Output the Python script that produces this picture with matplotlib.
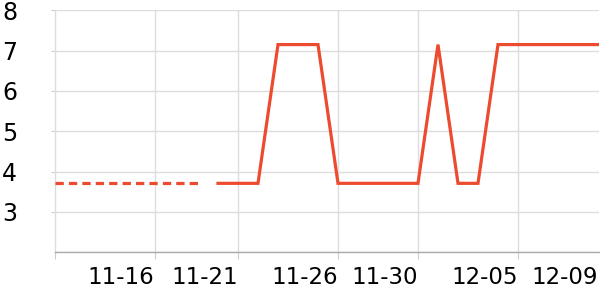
import matplotlib
matplotlib.use("Agg")
import matplotlib.pyplot as plt

# Data
solid_dates = ['11-20', '11-21', '11-22', '11-23', '11-24', '11-25', '11-26',
               '11-27', '11-28', '11-29', '11-30', '12-01', '12-02', '12-03',
               '12-04', '12-05', '12-06', '12-07', '12-08', '12-09']
solid_values = [3.71, 3.71, 3.71, 7.15, 7.15, 7.15, 3.71,
                3.71, 3.71, 3.71, 3.71, 7.15, 3.71, 3.71,
                7.15, 7.15, 7.15, 7.15, 7.15, 7.15]
dashed_x = [-8.15, -0.9]
dashed_values = [3.71, 3.71]
tick_labels = ['11-16', '11-21', '11-26', '11-30', '12-05', '12-09']
tick_pos = [-3.175, 1.0, 6.0, 10.0, 15.0, 19.0]
y_ticks = [3, 4, 5, 6, 7, 8]

color = '#ec4b30'

fig = plt.figure(figsize=(6, 3), dpi=100)
ax = fig.add_axes([55/600, (300-252.3)/300, (599-55)/600, (252.3-10.3)/300])

xs = list(range(len(solid_dates)))
ax.plot(xs, solid_values, color=color, lw=2.3, solid_joinstyle='miter', zorder=3)
ax.plot(dashed_x, dashed_values, color=color, lw=2.3, dashes=(2.6, 1.6), zorder=3)

ax.set_xlim(-8.15, 19.05)
ax.set_ylim(2, 8)

# grid
for y in [2] + y_ticks:
    ax.axhline(y, color='#dddddd', lw=1, zorder=1)
for x in tick_pos[:-1]:
    ax.axvline(x, color='#dddddd', lw=1, zorder=1)

for s in ['top', 'right']:
    ax.spines[s].set_visible(False)
ax.spines['left'].set_color('#dddddd')
ax.spines['bottom'].set_color('#aaaaaa')
ax.spines['bottom'].set_linewidth(1)
ax.spines['left'].set_linewidth(1)

ax.set_yticks(y_ticks)
ax.set_yticklabels([str(v) for v in y_ticks])
ax.tick_params(axis='y', length=3, color='#cccccc', labelsize=17)
for lbl in ax.get_yticklabels():
    lbl.set_horizontalalignment('left')
ax.tick_params(axis='y', pad=35)

ax.set_xticks([-8.15] + tick_pos)
ax.set_xticklabels([''] + tick_labels)
for lbl in ax.get_xticklabels():
    lbl.set_horizontalalignment('right')
ax.tick_params(axis='x', length=5, color='#cccccc', pad=5, labelsize=16.5)
ax.xaxis.get_major_ticks()[-1].tick1line.set_visible(False)

fig.savefig('out.png', dpi=100)
